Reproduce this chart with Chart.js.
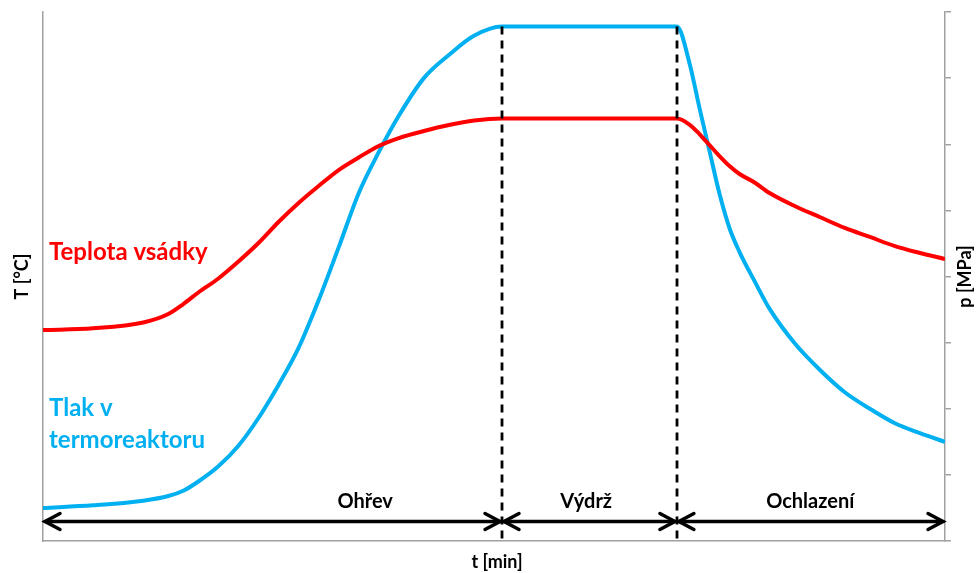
<!DOCTYPE html>
<html>
<head>
<meta charset="utf-8">
<script src="https://cdn.jsdelivr.net/npm/chart.js@4.4.0/dist/chart.umd.min.js"></script>
<style>
  html, body { margin: 0; padding: 0; background: #fff; }
</style>
</head>
<body>
<canvas id="myChart" width="977" height="573"></canvas>
<script>
// time [min]
const times = [0, 10, 20, 25, 28, 31, 35, 39, 43, 47, 51, 55, 59, 63, 67, 71, 76, 81, 86, 91.6,
  126.5, 129, 131, 133, 135, 137, 139, 142, 145, 150, 155, 160, 165, 170, 175, 180];
// Teplota vsádky [°C]
const temperature = [159.5, 160.8, 165.2, 171.6, 179.2, 187.9, 198.5, 211.3, 225.3, 241.2, 255.6, 268.4, 280.5, 290.0, 298.7, 304.7, 310.0, 314.5, 317.9, 319.5,
  319.5, 314.9, 307.7, 299.4, 291.1, 283.5, 277.5, 271.1, 263.1, 253.3, 245.0, 236.7, 229.9, 223.0, 217.8, 213.2];
// Tlak v termoreaktoru [MPa]
const pressure = [0.50, 0.54, 0.61, 0.68, 0.76, 0.90, 1.13, 1.44, 1.86, 2.36, 2.92, 3.64, 4.44, 5.26, 5.88, 6.43, 7.00, 7.35, 7.64, 7.78,
  7.78, 7.23, 6.55, 5.90, 5.25, 4.73, 4.37, 3.93, 3.51, 2.99, 2.59, 2.25, 2.00, 1.78, 1.63, 1.50];

const phaseBounds = [0, 91.6, 126.5, 180];
const phaseNames = ['Ohřev', 'Výdrž', 'Ochlazení'];
const phaseLabelAt = [64.3, 108.4, 153.1];

const RED = '#FF0000';
const BLUE = '#00B0F0';
const AXIS = '#A0A0A0';
const FONT = 'Lato, "Open Sans", sans-serif';

const overlay = {
  id: 'overlay',
  afterDatasetsDraw(chart) {
    const ctx = chart.ctx;
    const xs = chart.scales.x, yT = chart.scales.y, yP = chart.scales.y1;
    const area = chart.chartArea;
    ctx.save();

    // dashed phase boundaries
    const topY = yP.getPixelForValue(Math.max(...pressure));
    ctx.strokeStyle = '#000';
    ctx.lineWidth = 2.8;
    ctx.setLineDash([8, 6]);
    [phaseBounds[1], phaseBounds[2]].forEach(t => {
      const x = Math.round(xs.getPixelForValue(t));
      ctx.beginPath();
      ctx.moveTo(x, topY);
      ctx.lineTo(x, area.bottom);
      ctx.stroke();
    });
    ctx.setLineDash([]);

    // double arrows for the phases
    const ay = area.bottom - 19.5;
    ctx.lineWidth = 3.5;
    ctx.lineCap = 'round';
    ctx.lineJoin = 'miter';
    for (let i = 0; i < 3; i++) {
      const x1 = xs.getPixelForValue(phaseBounds[i]) + 2;
      const x2 = xs.getPixelForValue(phaseBounds[i + 1]) - 2;
      ctx.beginPath();
      ctx.moveTo(x1, ay); ctx.lineTo(x2, ay);
      ctx.stroke();
      ctx.beginPath();
      ctx.moveTo(x1 + 15, ay - 8); ctx.lineTo(x1, ay); ctx.lineTo(x1 + 15, ay + 8);
      ctx.moveTo(x2 - 15, ay - 8); ctx.lineTo(x2, ay); ctx.lineTo(x2 - 15, ay + 8);
      ctx.stroke();
    }

    // phase labels
    ctx.fillStyle = '#000';
    ctx.font = 'bold 20px ' + FONT;
    ctx.textAlign = 'center';
    ctx.textBaseline = 'middle';
    phaseNames.forEach((n, i) => {
      ctx.fillText(n, xs.getPixelForValue(phaseLabelAt[i]), area.bottom - 39);
    });

    // series labels
    ctx.textAlign = 'left';
    ctx.font = 'bold 24px ' + FONT;
    ctx.fillStyle = RED;
    ctx.fillText('Teplota vsádky', area.left + 6, yT.getPixelForValue(218.5));
    ctx.fillStyle = BLUE;
    ctx.fillText('Tlak v', area.left + 6, yP.getPixelForValue(2.0));
    ctx.fillText('termoreaktoru', area.left + 6, yP.getPixelForValue(1.53));

    // x axis title (sits a bit right of centre)
    ctx.fillStyle = '#000';
    ctx.font = 'bold 18px ' + FONT;
    ctx.textAlign = 'center';
    ctx.fillText('t [min]', 497, 562);

    // right axis title (reads bottom to top)
    ctx.translate(965, (area.top + area.bottom) / 2);
    ctx.rotate(-Math.PI / 2);
    ctx.fillText('p [MPa]', 0, 0);
    ctx.restore();
  }
};

const ctx = document.getElementById('myChart').getContext('2d');
new Chart(ctx, {
  type: 'line',
  data: {
    labels: times,
    datasets: [{
      label: 'Teplota vsádky',
      data: temperature,
      borderColor: RED,
      borderWidth: 4,
      pointRadius: 0,
      cubicInterpolationMode: 'monotone',
      yAxisID: 'y',
      fill: false
    }, {
      label: 'Tlak v termoreaktoru',
      data: pressure,
      borderColor: BLUE,
      borderWidth: 4,
      pointRadius: 0,
      cubicInterpolationMode: 'monotone',
      yAxisID: 'y1',
      fill: false
    }]
  },
  options: {
    responsive: false,
    animation: false,
    devicePixelRatio: 1,
    layout: { padding: { top: 12, left: 0, right: 0, bottom: 0 } },
    plugins: { legend: { display: false }, tooltip: { enabled: false } },
    scales: {
      x: {
        type: 'linear',
        min: 0, max: 180,
        grid: { display: false },
        border: { display: true, color: AXIS, width: 1.5 },
        ticks: { display: false },
        afterFit(s) { s.height = 32; }
      },
      y: {
        position: 'left',
        min: 0, max: 400,
        grid: { display: false },
        border: { display: true, color: AXIS, width: 1.5 },
        ticks: { display: false, stepSize: 50 },
        title: { display: true, text: 'T [°C]', color: '#000', font: { family: FONT, size: 18, weight: 'bold' }, padding: { top: 11, bottom: 0 } },
        afterFit(s) { s.width = 43; }
      },
      y1: {
        position: 'right',
        min: 0, max: 8,
        grid: { display: true, drawOnChartArea: false, drawTicks: true, tickLength: 6, color: AXIS, lineWidth: 1.5 },
        border: { display: true, color: AXIS, width: 1.5 },
        ticks: { display: false, stepSize: 1 },
        afterFit(s) { s.width = 32; }
      }
    }
  },
  plugins: [overlay]
});
</script>
</body>
</html>
